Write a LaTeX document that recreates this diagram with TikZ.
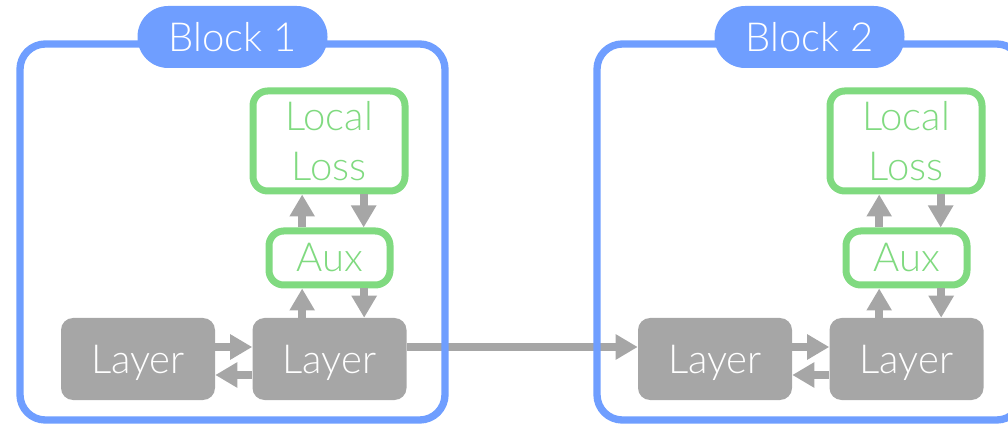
\documentclass[tikz,border=0pt]{standalone}
\usepackage{fontspec}
\setmainfont{Lato Light}
\usetikzlibrary{arrows.meta}
\definecolor{frameblue}{RGB}{111,158,255}
\definecolor{lossgreen}{RGB}{128,218,128}
\definecolor{layergray}{RGB}{166,166,166}
\tikzset{
  blockframe/.style={draw=frameblue, line width=5.5pt, rounded corners=19pt},
  blocktag/.style={fill=frameblue, text=white, rounded corners=23pt,
    minimum width=142.5pt, minimum height=46.5pt, inner sep=0pt,
    font=\fontsize{30}{36}\selectfont},
  greenbox/.style={draw=lossgreen, line width=5.25pt, fill=white, rounded corners=11pt,
    text=lossgreen, inner sep=0pt, align=center,
    font=\fontsize{30}{37.5}\selectfont},
  layerbox/.style={fill=layergray, text=white, rounded corners=9pt,
    minimum width=115.5pt, minimum height=61.5pt, inner sep=0pt, text depth=0pt,
    font=\fontsize{30}{36}\selectfont},
  flow/.style={draw=layergray, line width=6pt,
    -{Triangle[width=18pt,length=16.5pt]}},
}
\begin{document}
\begin{tikzpicture}[x=0.75pt, y=-0.75pt]
\useasboundingbox (0,0) rectangle (1008,424);
\foreach \dx/\n in {0/1, 577/2} {
  \begin{scope}[xshift=\dx*0.75pt]
    \node[layerbox] (la\n) at (138,359) {Layer};
    \node[layerbox] (lb\n) at (329.5,359) {Layer};
    \node[greenbox, minimum width=90.75pt, minimum height=40.5pt] (aux\n) at (329.5,258) {Aux};
    \node[greenbox, minimum width=114pt, minimum height=75pt] (loss\n) at (329,141) {Local\\Loss};
    % forward / backward between layers
    \draw[flow] ([yshift=9pt]la\n.east) -- ([yshift=9pt]lb\n.east -| lb\n.west);
    \draw[flow] ([yshift=-12pt]lb\n.west) -- ([yshift=-12pt]la\n.west -| la\n.east);
    % layer <-> aux
    \draw[flow] ([xshift=-20.5pt]lb\n.north) -- ([xshift=-20.5pt]lb\n.north |- aux\n.south);
    \draw[flow] ([xshift=26pt]aux\n.south) -- ([xshift=26pt]aux\n.south |- lb\n.north);
    % aux <-> local loss
    \draw[flow] ([xshift=-20.5pt]aux\n.north) -- ([xshift=-20.5pt]aux\n.north |- loss\n.south);
    \draw[flow] ([xshift=26pt]loss\n.south) -- ([xshift=26pt]loss\n.south |- aux\n.north);
  \end{scope}
}
% hand-off from block 1 to block 2 (frames are drawn on top of it)
\draw[flow] ([yshift=9pt]lb1.east) -- ([yshift=9pt]la2.west);
% block frames and title tags
\foreach \dx/\n in {0/1, 577/2} {
  \begin{scope}[xshift=\dx*0.75pt]
    \draw[blockframe] (20,44) rectangle (445,420);
    \node[blocktag] (tag\n) at (232.5,37) {Block \n};
  \end{scope}
}
\end{tikzpicture}
\end{document}
